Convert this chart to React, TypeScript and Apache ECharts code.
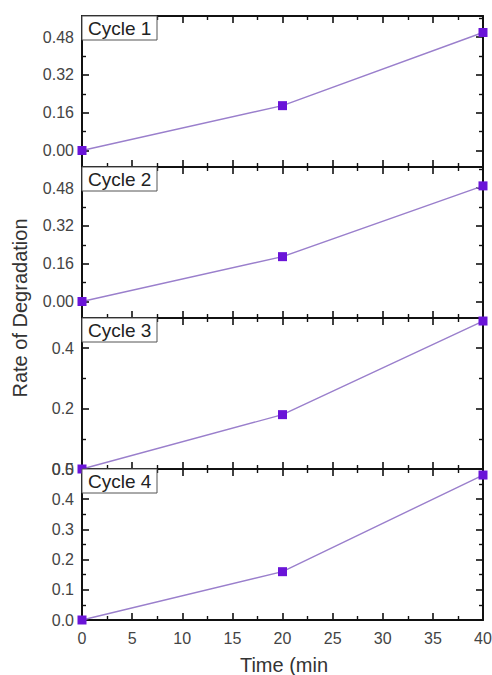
import React, { useEffect, useRef } from "react";
import * as echarts from "echarts";

const times = [0, 20, 40];
const cycle1 = [0, 0.19, 0.5];
const cycle2 = [0, 0.19, 0.49];
const cycle3 = [0, 0.18, 0.49];
const cycle4 = [0, 0.16, 0.48];
const cycleNames = ["Cycle 1", "Cycle 2", "Cycle 3", "Cycle 4"];

const yMin = [-0.07, -0.07, 0, 0];
const yMax = [0.57, 0.57, 0.5, 0.5];
const majorTicks = [
  [0, 0.16, 0.32, 0.48],
  [0, 0.16, 0.32, 0.48],
  [0, 0.2, 0.4],
  [0, 0.1, 0.2, 0.3, 0.4, 0.5],
];
const minorTicks = [
  [0.08, 0.24, 0.4, 0.56],
  [0.08, 0.24, 0.4, 0.56],
  [0.1, 0.3, 0.5],
  [0.05, 0.15, 0.25, 0.35, 0.45],
];
const labelDecimals = [2, 2, 1, 1];
const xTitle = "Time (min";
const yTitle = "Rate of Degradation";

const FONT = '"Liberation Sans", Arial, Helvetica, sans-serif';

export default function App() {
  const ref = useRef<HTMLDivElement>(null);
  useEffect(() => {
    if (!ref.current) return;
    const chart = echarts.init(ref.current, undefined, { renderer: "svg" });
    const series = [cycle1, cycle2, cycle3, cycle4];
    const gridLeft = 82;
    const gridWidth = 401;
    const gridTops = [16, 167, 318, 469];
    const gridH = 151;

    const grids: any[] = [];
    const xAxes: any[] = [];
    const yAxes: any[] = [];
    const seriesOpts: any[] = [];
    const graphics: any[] = [];

    const axisLine = { show: true, onZero: false, lineStyle: { color: "#111", width: 2 } };
    const noLine = { show: false, onZero: false };

    gridTops.forEach((top, i) => {
      grids.push({ left: gridLeft, top, width: gridWidth, height: gridH, outerBoundsMode: "none", containLabel: false });
      const last = i === 3;
      const xBase = {
        type: "value",
        gridIndex: i,
        min: 0,
        max: 40,
        interval: 5,
        axisLine,
        axisTick: { show: true, inside: true, length: 7, lineStyle: { color: "#111", width: 1.6 } },
        minorTick: { show: true, splitNumber: 2, length: 4, lineStyle: { color: "#111", width: 1.4 } },
        splitLine: { show: false },
        minorSplitLine: { show: false },
      };
      xAxes.push({
        ...xBase,
        position: "bottom",
        axisLabel: {
          show: last,
          margin: 10,
          fontSize: 16,
          fontFamily: FONT,
          color: "#444",
        },
      });
      xAxes.push({ ...xBase, position: "top", axisLabel: { show: false } });

      const yBase = {
        type: "value",
        gridIndex: i,
        min: yMin[i],
        max: yMax[i],
        splitLine: { show: false },
      };
      const dec = labelDecimals[i];
      yAxes.push({
        ...yBase,
        position: "left",
        axisLine,
        axisTick: {
          show: true,
          inside: true,
          length: 7,
          customValues: majorTicks[i],
          lineStyle: { color: "#111", width: 1.6 },
        },
        axisLabel: {
          show: true,
          customValues: majorTicks[i],
          formatter: (v: number) => v.toFixed(dec),
          margin: 8,
          fontSize: 16,
          fontFamily: FONT,
          color: "#444",
        },
      });
      yAxes.push({
        ...yBase,
        position: "left",
        axisLine: noLine,
        axisTick: {
          show: true,
          inside: true,
          length: 4,
          customValues: minorTicks[i],
          lineStyle: { color: "#111", width: 1.4 },
        },
        axisLabel: { show: false },
      });
      yAxes.push({
        ...yBase,
        position: "right",
        axisLine,
        axisTick: {
          show: true,
          inside: true,
          length: 7,
          customValues: majorTicks[i],
          lineStyle: { color: "#111", width: 1.6 },
        },
        axisLabel: { show: false },
      });
      yAxes.push({
        ...yBase,
        position: "right",
        axisLine: noLine,
        axisTick: {
          show: true,
          inside: true,
          length: 4,
          customValues: minorTicks[i],
          lineStyle: { color: "#111", width: 1.4 },
        },
        axisLabel: { show: false },
      });

      seriesOpts.push({
        type: "line",
        name: cycleNames[i],
        xAxisIndex: i * 2,
        yAxisIndex: i * 4,
        data: times.map((t, k) => [t, series[i][k]]),
        symbol: "rect",
        symbolSize: 9,
        showAllSymbol: true,
        lineStyle: { color: "#9a7fcc", width: 1.4 },
        itemStyle: { color: "#6a14d8" },
        z: 2,
      });

      graphics.push({
        type: "rect",
        z: 100,
        shape: { x: gridLeft, y: top, width: 75, height: 24 },
        style: { fill: "#fff", stroke: "#555", lineWidth: 1 },
      });
      graphics.push({
        type: "text",
        z: 101,
        x: gridLeft + 6,
        y: top + 12.5,
        style: {
          text: cycleNames[i],
          fill: "#222",
          font: `19px ${FONT}`,
          align: "left",
          verticalAlign: "middle",
          textAlign: "left",
          textVerticalAlign: "middle",
        },
      });
    });

    graphics.push({
      type: "text",
      x: 20,
      y: 308,
      rotation: Math.PI / 2,
      style: {
        text: yTitle,
        fill: "#333",
        font: `20px ${FONT}`,
        align: "center",
        verticalAlign: "middle",
        textAlign: "center",
        textVerticalAlign: "middle",
      },
    });
    graphics.push({
      type: "text",
      x: 284,
      y: 665,
      style: {
        text: xTitle,
        fill: "#333",
        font: `20px ${FONT}`,
        align: "center",
        verticalAlign: "middle",
        textAlign: "center",
        textVerticalAlign: "middle",
      },
    });

    chart.setOption({
      animation: false,
      backgroundColor: "#fff",
      grid: grids,
      xAxis: xAxes,
      yAxis: yAxes,
      series: seriesOpts,
      graphic: graphics,
    });
    return () => chart.dispose();
  }, []);
  return (
    <div
      ref={ref}
      style={{ position: "fixed", left: 0, top: 0, width: 492, height: 675 }}
    />
  );
}
